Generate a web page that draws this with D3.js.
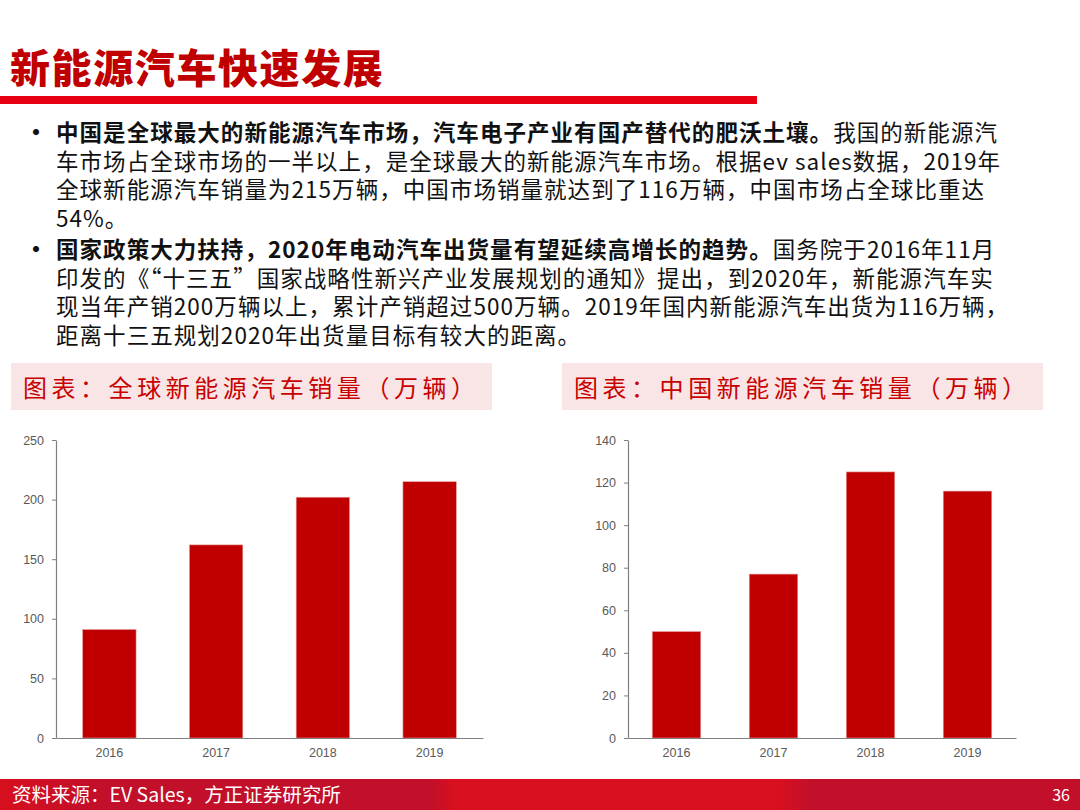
<!DOCTYPE html>
<meta charset="utf-8">
<style>
body { margin: 0; background: #fff; }
svg { display: block; font-family: "Noto Sans CJK SC", "Noto Sans", sans-serif; }
.tick text { font-family: "Liberation Sans", Arial, sans-serif; font-size: 12.5px; fill: #595959; }
.axis path, .axis line { stroke: #7f7f7f; }
</style>
<svg width="1080" height="810"></svg>
<script src="https://d3js.org/d3.v7.min.js"></script>
<script>

// data
var years = ["2016", "2017", "2018", "2019"];
var globalSales = [91, 162, 202, 215];
var chinaSales = [50, 77, 125, 116];
var globalTicks = [0, 50, 100, 150, 200, 250];
var chinaTicks = [0, 20, 40, 60, 80, 100, 120, 140];

var pageTitle = "新能源汽车快速发展";
var chartTitles = ["图表：全球新能源汽车销量（万辆）", "图表：中国新能源汽车销量（万辆）"];
var sourceText = "资料来源：EV Sales，方正证券研究所";
var pageNo = "36";

// bullet lines: [bold part, normal part]
var bulletLines = [
  ["中国是全球最大的新能源汽车市场，汽车电子产业有国产替代的肥沃土壤。", "我国的新能源汽"],
  ["", "车市场占全球市场的一半以上，是全球最大的新能源汽车市场。根据ev sales数据，2019年"],
  ["", "全球新能源汽车销量为215万辆，中国市场销量就达到了116万辆，中国市场占全球比重达"],
  ["", "54%。"],
  ["国家政策大力扶持，2020年电动汽车出货量有望延续高增长的趋势。", "国务院于2016年11月"],
  ["", "印发的《“十三五”国家战略性新兴产业发展规划的通知》提出，到2020年，新能源汽车实"],
  ["", "现当年产销200万辆以上，累计产销超过500万辆。2019年国内新能源汽车出货为116万辆，"],
  ["", "距离十三五规划2020年出货量目标有较大的距离。"]
];
var bulletStarts = [0, 4];

var svg = d3.select("svg");
var red = "#c00000";

// page title
svg.append("text")
    .attr("x", 10).attr("y", 83)
    .attr("font-size", 40).attr("font-weight", 900)
    .attr("letter-spacing", 1.6)
    .attr("fill", red)
    .text(pageTitle);

svg.append("rect")
    .attr("x", 0).attr("y", 96).attr("width", 757).attr("height", 8)
    .attr("fill", "#e60012");

// bullet text
var lineY = d3.scaleLinear().domain([0, 7]).range([141, 341]);
bulletLines.forEach(function(l, i) {
  var t = svg.append("text")
      .attr("x", 56).attr("y", lineY(i) + (i >= 4 ? 3 : 0))
      .attr("font-size", 22.5).attr("letter-spacing", 1.05)
      .attr("fill", "#111");
  if (l[0]) t.append("tspan").attr("font-weight", 700).text(l[0]);
  t.append("tspan").text(l[1]);
});
bulletStarts.forEach(function(i) {
  svg.append("text")
      .attr("x", 24).attr("y", lineY(i) + (i >= 4 ? 3 : 0))
      .attr("font-size", 24).attr("font-weight", 700).attr("fill", "#111")
      .text("•");
});

// chart title boxes
[11, 562].forEach(function(x, i) {
  svg.append("rect")
      .attr("x", x).attr("y", 363).attr("width", 481).attr("height", 47)
      .attr("fill", "#f9e5e5");
  svg.append("text")
      .attr("x", x + 12).attr("y", 397)
      .attr("font-size", 24)
      .attr("textLength", 452).attr("lengthAdjust", "spacing")
      .attr("fill", "#c80000")
      .text(chartTitles[i]);
});

function drawChart(values, ticks, x0, x1, yTop, yBottom) {
  var x = d3.scaleBand().domain(years).range([x0, x1]).paddingInner(0.5).paddingOuter(0.25);
  var y = d3.scaleLinear().domain([0, d3.max(ticks)]).range([yBottom, yTop]);
  var g = svg.append("g");

  g.append("g")
      .attr("class", "axis")
      .attr("transform", "translate(" + x0 + ",0)")
      .call(d3.axisLeft(y).tickValues(ticks).tickSize(4).tickSizeOuter(0).tickPadding(8))
      .call(function(a) { a.select(".domain").attr("stroke-width", 1.2); });

  g.selectAll("rect.bar")
    .data(values)
    .enter().append("rect")
      .attr("class", "bar")
      .attr("x", function(d, i) { return x(years[i]); })
      .attr("width", x.bandwidth())
      .attr("y", function(d) { return y(d); })
      .attr("height", function(d) { return yBottom - y(d); })
      .attr("fill", red)
      .attr("stroke", "#e89a9a").attr("stroke-width", 0.6);

  g.append("g")
      .attr("class", "axis")
      .attr("transform", "translate(0," + yBottom + ")")
      .call(d3.axisBottom(x).tickSize(0).tickPadding(10))
      .call(function(a) { a.select(".domain").attr("stroke-width", 1.2); });
}

drawChart(globalSales, globalTicks, 56, 483, 440, 738);
drawChart(chinaSales, chinaTicks, 628, 1016, 440, 738);

// footer
var grad = svg.append("defs").append("linearGradient").attr("id", "foot");
[[0, "#d70f1e"], [0.09, "#c20f2a"], [0.4, "#c20f2a"], [0.42, "#d8101f"], [0.72, "#d8101f"], [0.75, "#c2102a"], [1, "#c2102a"]]
  .forEach(function(s) { grad.append("stop").attr("offset", s[0]).attr("stop-color", s[1]); });

svg.append("rect")
    .attr("x", 0).attr("y", 779).attr("width", 1080).attr("height", 31)
    .attr("fill", "url(#foot)");

svg.append("text")
    .attr("x", 12).attr("y", 802)
    .attr("font-size", 19.5).attr("fill", "#fff")
    .text(sourceText);

svg.append("text")
    .attr("x", 1070).attr("y", 801)
    .attr("text-anchor", "end")
    .attr("font-size", 16).attr("fill", "#fff")
    .text(pageNo);

</script>
